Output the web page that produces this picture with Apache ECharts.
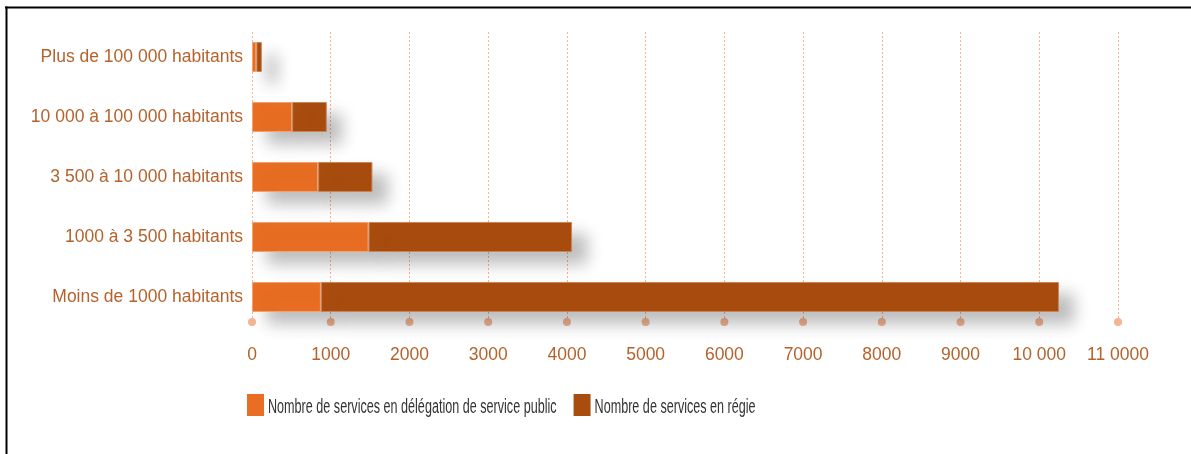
<!DOCTYPE html>
<html>
<head>
<meta charset="utf-8">
<script src="https://cdn.jsdelivr.net/npm/echarts@6/dist/echarts.min.js"></script>
<style>
html,body{margin:0;padding:0;background:#fff;}
#chart{width:1191px;height:454px;}
</style>
</head>
<body>
<div id="chart"></div>
<script>
const categories = [
  "Plus de 100 000 habitants",
  "10 000 à 100 000 habitants",
  "3 500 à 10 000 habitants",
  "1000 à 3 500 habitants",
  "Moins de 1000 habitants"
];
const delegationValues = [55, 510, 840, 1480, 875];
const regieValues = [70, 440, 690, 2585, 9375];
const tickValues = [0, 1000, 2000, 3000, 4000, 5000, 6000, 7000, 8000, 9000, 10000, 11000];
const tickLabels = ["0", "1000", "2000", "3000", "4000", "5000", "6000", "7000", "8000", "9000", "10 000", "11 0000"];
const seriesNames = ["Nombre de services en délégation de service public", "Nombre de services en régie"];
const seriesColors = ["#E96E23", "#A94D0F"];

const FONT = "'Liberation Sans', Arial, sans-serif";
const FS = 17.5;
const chart = echarts.init(document.getElementById('chart'), null, {renderer: 'canvas'});

const shadow = {shadowColor: 'rgba(0,0,0,0.26)', shadowBlur: 16, shadowOffsetX: 15, shadowOffsetY: 12};

// Legend (condensed text, drawn as real text with horizontal compression)
const LEG_FONT_SIZE = 20, LEG_SCALE = 0.63;
const measureCtx = document.createElement('canvas').getContext('2d');
measureCtx.font = LEG_FONT_SIZE + "px " + FONT;
const legendGraphics = [];
let lx = 247;
const ly = 405;
seriesNames.forEach(function (name, i) {
  legendGraphics.push({type: 'rect', shape: {x: lx, y: ly - 11, width: 17, height: 22},
    style: {fill: seriesColors[i]}, silent: true});
  const tx = lx + 21;
  legendGraphics.push({type: 'text', x: tx, y: ly + 2, scaleX: LEG_SCALE, silent: true,
    style: {text: name, font: LEG_FONT_SIZE + "px " + FONT, fill: '#333333', verticalAlign: 'middle', align: 'left'}});
  lx = tx + measureCtx.measureText(name).width * LEG_SCALE + 17;
});

chart.setOption({
  animation: false,
  backgroundColor: '#fff',
  textStyle: {fontFamily: FONT},
  graphic: [
    {type: 'line', shape: {x1: 5, y1: 7.5, x2: 1191, y2: 7.5}, style: {stroke: '#000', lineWidth: 2}},
    {type: 'line', shape: {x1: 6.5, y1: 6.5, x2: 6.5, y2: 454}, style: {stroke: '#000', lineWidth: 2}}
  ].concat(legendGraphics),
  grid: {left: 252, right: 73, top: 27, height: 300, containLabel: false, outerBoundsMode: 'none'},
  xAxis: {
    type: 'value', min: 0, max: 11000, interval: 1000,
    axisLine: {show: false}, axisTick: {show: false}, splitLine: {show: false},
    axisLabel: {
      margin: 19, fontFamily: FONT, fontSize: FS, color: '#B5622C',
      formatter: function (v) { const i = tickValues.indexOf(v); return i >= 0 ? tickLabels[i] : ''; }
    }
  },
  yAxis: [
    {
      type: 'category', data: categories, inverse: true,
      axisLine: {show: false}, axisTick: {show: false}, splitLine: {show: false},
      axisLabel: {margin: 9, fontFamily: FONT, fontSize: FS, color: '#B5622C'}
    },
    {type: 'value', min: 0, max: 300, show: false}
  ],
  series: [
    {
      type: 'scatter', yAxisIndex: 1, data: [], z: 1, silent: true,
      markLine: {
        silent: true, animation: false, z: 1,
        symbol: ['circle', 'none'], symbolSize: 8,
        label: {show: false},
        lineStyle: {type: [2, 2], color: '#F3B592', width: 1, opacity: 1},
        data: tickValues.map(v => [{coord: [v, 5]}, {coord: [v, 295]}])
      }
    },
    {
      name: seriesNames[0], type: 'bar', stack: 'total', data: delegationValues,
      barWidth: 30, z: 3,
      itemStyle: Object.assign({color: seriesColors[0], borderColor: '#F0A271', borderWidth: 1}, shadow)
    },
    {
      name: seriesNames[1], type: 'bar', stack: 'total', data: regieValues,
      barWidth: 30, z: 3,
      itemStyle: Object.assign({color: seriesColors[1], borderColor: '#C9855A', borderWidth: 1}, shadow)
    }
  ]
});
</script>
</body>
</html>
